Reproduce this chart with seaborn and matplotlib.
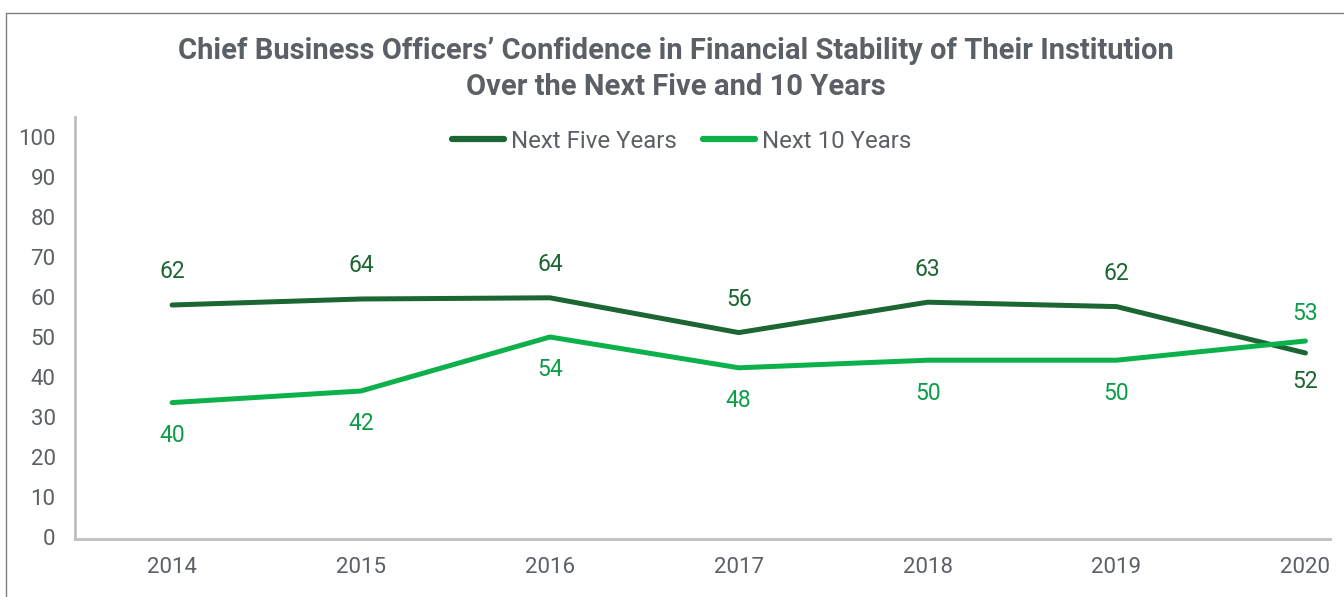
import matplotlib
matplotlib.use("Agg")
import matplotlib.pyplot as plt
from matplotlib.lines import Line2D
import pandas as pd
import seaborn as sns

# data
YEARS = [2014, 2015, 2016, 2017, 2018, 2019, 2020]
# line heights as drawn in the source chart
FIVE_LINE = [58.0, 59.5, 59.8, 51.1, 58.7, 57.6, 46.0]
TEN_LINE = [33.6, 36.5, 50.0, 42.3, 44.2, 44.2, 49.0]
# printed data labels
FIVE_LABELS = [62, 64, 64, 56, 63, 62, 52]
TEN_LABELS = [40, 42, 54, 48, 50, 50, 53]
SERIES = ["Next Five Years", "Next 10 Years"]
YTICKS = list(range(0, 101, 10))

DARK = "#1b6633"
LIGHT = "#0db14b"
DARK_TXT = "#1b6633"
LIGHT_TXT = "#0e9c48"
GREY = "#5b5f66"

df = pd.DataFrame({
    "year": YEARS * 2,
    "value": FIVE_LINE + TEN_LINE,
    "series": [SERIES[0]] * len(YEARS) + [SERIES[1]] * len(YEARS),
})

sns.set_style("white")
plt.rcParams["font.family"] = ["Roboto", "DejaVu Sans"]

fig = plt.figure(figsize=(13.44, 5.97), dpi=100)
ax = fig.add_axes([75 / 1344, 1 - 539 / 597, (1330 - 75) / 1344, (539 - 117) / 597])

sns.lineplot(data=df, x="year", y="value", hue="series", palette=[DARK, LIGHT],
             linewidth=3.6, ax=ax, legend=False, solid_capstyle="round")

# data labels: five-year above, ten-year below (swapped at 2020)
for i, yr in enumerate(YEARS):
    up_five = i < len(YEARS) - 1
    off5 = 33 if up_five else -29
    off10 = -33 if up_five else 28
    ax.annotate(str(FIVE_LABELS[i]), (yr, FIVE_LINE[i]), xytext=(0, off5),
                textcoords="offset pixels", ha="center", va="center",
                fontsize=16.5, color=DARK_TXT)
    ax.annotate(str(TEN_LABELS[i]), (yr, TEN_LINE[i]), xytext=(0, off10),
                textcoords="offset pixels", ha="center", va="center",
                fontsize=16.5, color=LIGHT_TXT)

ax.set_xlim(2013.486, 2020.13)
ax.set_ylim(-0.5, 105)
ax.set_xticks(YEARS)
ax.set_xticklabels([str(y) for y in YEARS])
ax.set_yticks(YTICKS)
ax.set_xlabel("")
ax.set_ylabel("")
ax.tick_params(axis="both", length=0, labelsize=16, labelcolor=GREY)
ax.tick_params(axis="y", pad=14)
ax.tick_params(axis="x", pad=13)
for s in ["top", "right"]:
    ax.spines[s].set_visible(False)
for s in ["left", "bottom"]:
    ax.spines[s].set_color("#bfbfbf")
    ax.spines[s].set_linewidth(2)

handles = [Line2D([], [], color=DARK, lw=4.5, solid_capstyle="round"),
           Line2D([], [], color=LIGHT, lw=4.5, solid_capstyle="round")]
fig.legend(handles, SERIES, loc="center", bbox_to_anchor=(682 / 1344, 1 - 141 / 597),
           ncol=2, frameon=False, fontsize=17.3, handlelength=2.15,
           handletextpad=0.3, columnspacing=1.1, labelcolor=GREY)

fig.text(676 / 1344, 1 - 69 / 597,
         "Chief Business Officers\u2019 Confidence in Financial Stability of Their Institution\n"
         "Over the Next Five and 10 Years",
         ha="center", va="center", fontsize=21, fontweight="bold", color=GREY,
         linespacing=1.33)

# thin outer frame (top and left)
fig.add_artist(Line2D([6 / 1344, 1], [1 - 13 / 597, 1 - 13 / 597],
                      transform=fig.transFigure, color="#7f7f7f", lw=1))
fig.add_artist(Line2D([6 / 1344, 6 / 1344], [0, 1 - 13 / 597],
                      transform=fig.transFigure, color="#7f7f7f", lw=1))

fig.savefig("out.png", dpi=100)
plt.close(fig)
